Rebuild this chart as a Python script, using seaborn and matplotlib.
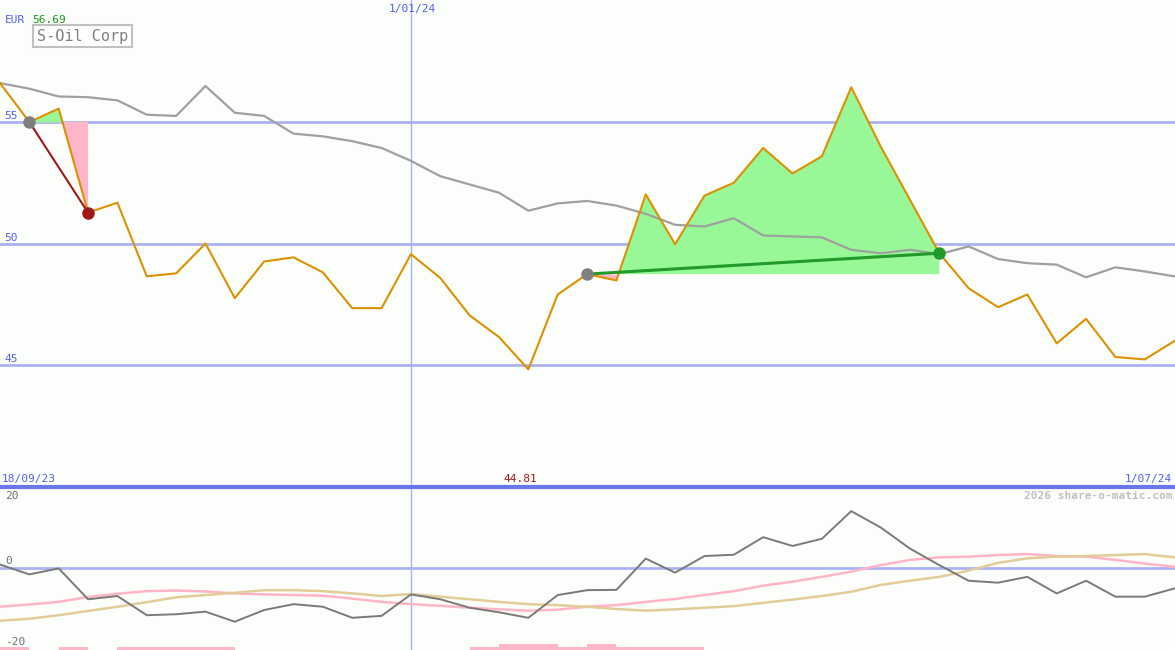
import numpy as np
import pandas as pd
import matplotlib
matplotlib.use("Agg")
import matplotlib.pyplot as plt
import seaborn as sns

# weekly closes, S-Oil Corp (EUR)
price = [56.60, 55.00, 55.55, 51.27, 51.68, 48.65, 48.77, 50.00, 47.75, 49.26,
         49.43, 48.81, 47.34, 47.34, 49.56, 48.58, 47.04, 46.15, 44.82, 47.90,
         48.74, 48.48, 52.02, 49.97, 51.97, 52.50, 53.93, 52.88, 53.59, 56.43,
         54.00, 51.80, 49.60, 48.16, 47.38, 47.90, 45.89, 46.90, 45.33, 45.23,
         45.98]
# comparison line (grey)
compare = [56.60, 56.37, 56.05, 56.02, 55.89, 55.30, 55.25, 56.48, 55.38, 55.25,
           54.52, 54.41, 54.21, 53.93, 53.40, 52.77, 52.43, 52.09, 51.35, 51.65,
           51.75, 51.56, 51.22, 50.77, 50.70, 51.04, 50.33, 50.29, 50.25, 49.74,
           49.60, 49.74, 49.56, 49.88, 49.36, 49.19, 49.13, 48.61, 49.02, 48.85,
           48.65]
# oscillator panel
momentum = [1.0, -2.05, -0.2, -9.7, -8.7, -14.6, -14.3, -13.5, -16.6, -13.0,
            -11.2, -12.0, -15.4, -14.8, -8.2, -9.7, -12.3, -13.7, -15.4, -8.4,
            -6.9, -6.8, 2.8, -1.5, 3.6, 4.0, 9.4, 6.7, 8.9, 17.4,
            12.4, 5.9, 0.8, -4.0, -4.6, -2.8, -7.9, -4.0, -8.9, -8.9,
            -6.4]
smooth_pink = [-12.0, -11.3, -10.5, -9.0, -8.0, -7.2, -7.0, -7.3, -7.9, -8.2,
               -8.4, -8.6, -9.5, -10.5, -11.2, -11.7, -12.3, -12.8, -13.2, -12.9,
               -12.0, -11.5, -10.5, -9.6, -8.4, -7.2, -5.5, -4.3, -2.8, -1.2,
               0.8, 2.4, 3.2, 3.4, 3.9, 4.2, 3.6, 3.4, 2.4, 1.3,
               0.3]
smooth_tan = [-16.3, -15.7, -14.6, -13.3, -12.0, -10.6, -9.1, -8.4, -7.7, -6.9,
              -6.9, -7.2, -7.9, -8.7, -8.1, -8.9, -9.7, -10.5, -11.2, -11.5,
              -12.0, -12.7, -13.2, -12.8, -12.3, -11.8, -10.8, -9.8, -8.7, -7.4,
              -5.3, -4.0, -2.8, -0.9, 1.5, 2.9, 3.4, 3.6, 3.9, 4.2,
              3.2]
# small bars along the bottom of the lower panel (0 none, 1 low, 2 high)
bar_level = [1, 0, 1, 0, 1, 1, 1, 1, 0, 0, 0, 0, 0, 0, 0, 0, 1, 2, 2, 1,
             2, 1, 1, 1, 0, 0, 0, 0, 0, 0, 0, 0, 0, 0, 0, 0, 0, 0, 0, 0]

# trades: (entry week, exit week)
trades = [(1, 3), (20, 32)]
price_ticks = [45, 50, 55]

weeks = np.arange(len(price))
df = pd.DataFrame({"week": weeks, "price": price, "compare": compare,
                   "momentum": momentum, "pink": smooth_pink, "tan": smooth_tan})

W, H = 1175, 650
bg = "#fcfefc"
grid_c = "#a9b3f2"
blue_txt = "#5060f0"
mono = "DejaVu Sans Mono"

fig = plt.figure(figsize=(W / 100, H / 100), dpi=100, facecolor=bg)
ax = fig.add_axes([0, 1 - 487 / H, 1, 487 / H])
ax2 = fig.add_axes([0, 0, 1, 1 - 487 / H])
for a in (ax, ax2):
    a.set_facecolor(bg)
    a.set_xlim(0, 40.03)
    a.set_xticks([])
    a.set_yticks([])
    for s in a.spines.values():
        s.set_visible(False)
    a.axvline(14, color=grid_c, lw=1, zorder=0)

# main panel
ax.set_ylim(39.98, 60.02)
for t in price_ticks:
    ax.axhline(t, color=grid_c, lw=2, zorder=0)

for (i0, i1) in trades:
    xs = weeks[i0:i1 + 1]
    ys = np.array(price[i0:i1 + 1])
    lvl = price[i0]
    ax.fill_between(xs, ys, lvl, where=ys >= lvl, interpolate=True,
                    color="#98f898", lw=0, zorder=1)
    ax.fill_between(xs, ys, lvl, where=ys <= lvl, interpolate=True,
                    color="#ffb6c8", lw=0, zorder=1)

sns.lineplot(data=df, x="week", y="compare", ax=ax, color="#a0a0a0", lw=1.6, zorder=2)
sns.lineplot(data=df, x="week", y="price", ax=ax, color="#dd9000", lw=1.5, zorder=3)

for (i0, i1) in trades:
    won = price[i1] > price[i0]
    c = "#22992a" if won else "#a01818"
    ax.plot([i0, i1], [price[i0], price[i1]], color=c, lw=2.2 if won else 1.5, zorder=4)
    ax.plot(i0, price[i0], "o", color="#808080", ms=8, zorder=5)
    ax.plot(i1, price[i1], "o", color=c, ms=8, zorder=5)
ax.set_xlabel("")
ax.set_ylabel("")

# lower panel
lo, hi = -25.3, 24.83
ax2.set_ylim(lo, hi)
ax2.axhline(0, color=grid_c, lw=2, zorder=0)
ax2.axhline(hi, color="#6878ea", lw=3, zorder=6, clip_on=False)
ax2.bar(np.arange(len(bar_level)), np.array(bar_level) * 0.92, width=1.0,
        align="edge", bottom=lo, color="#ffb6c8", lw=0, zorder=1)
sns.lineplot(data=df, x="week", y="pink", ax=ax2, color="#ffb4c8", lw=1.8, zorder=2)
sns.lineplot(data=df, x="week", y="tan", ax=ax2, color="#e2cc98", lw=1.8, zorder=2)
sns.lineplot(data=df, x="week", y="momentum", ax=ax2, color="#7a7a7a", lw=1.4, zorder=3)
ax2.set_xlabel("")
ax2.set_ylabel("")


def ftxt(x, y, s, **kw):
    fig.text(x / W, 1 - y / H, s, family=mono, va="center", **kw)


ftxt(5, 20, "EUR", color=blue_txt, fontsize=8)
ftxt(32, 20, "56.69", color="#1a9a1a", fontsize=8)
ftxt(412, 9, "1/01/24", color=blue_txt, fontsize=8, ha="center")
for t, yy in zip(price_ticks, [359, 238, 116]):
    ftxt(4, yy, str(t), color=blue_txt, fontsize=8)
ftxt(2, 479, "18/09/23", color=blue_txt, fontsize=8)
ftxt(520, 479, "44.81", color="#a01818", fontsize=8, ha="center")
ftxt(1172, 479, "1/07/24", color=blue_txt, fontsize=8, ha="right")
ftxt(1172, 496, "2026 share-o-matic.com", color="#c0c0c0", fontsize=8,
     ha="right", fontweight="bold")
for s, yy in [("20", 496), ("0", 561), ("-20", 642)]:
    ftxt(5, yy, s, color="#707070", fontsize=8)

fig.text(37 / W, 1 - 36 / H, "S-Oil Corp", family=mono, fontsize=11,
         color="#808080", va="center",
         bbox=dict(boxstyle="square,pad=0.25", fc="white", ec="#c0c0c0", lw=1.5))

fig.savefig("out.png", dpi=100, facecolor=bg)
